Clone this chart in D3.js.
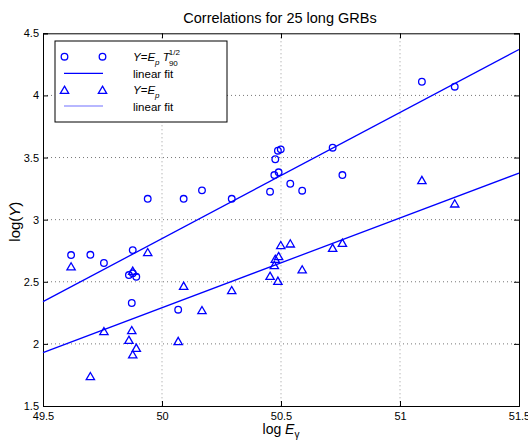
<!DOCTYPE html>
<html>
<head>
<meta charset="utf-8">
<script src="https://cdn.jsdelivr.net/npm/d3@7"></script>
<style>
  body { margin: 0; background: #fff; }
  text { font-family: "Liberation Sans", Arial, sans-serif; fill: #000; }
</style>
</head>
<body>
<div id="chart"></div>
<script>
// log E_gamma of the 25 bursts (shared by both series)
const logEgamma = [49.618, 49.699, 49.756, 49.877, 49.861, 49.877, 49.892, 49.873,
  49.940, 50.068, 50.091, 50.168, 50.293, 50.454, 50.472, 50.476, 50.487, 50.490,
  50.499, 50.539, 50.589, 50.717, 50.758, 51.092, 51.230];
// log(Ep * T90^(1/2))
const logYcirc = [2.715, 2.717, 2.651, 2.755, 2.554, 2.568, 2.540, 2.329,
  3.168, 2.275, 3.168, 3.236, 3.168, 3.225, 3.359, 3.486, 3.555, 3.381,
  3.566, 3.289, 3.233, 3.579, 3.359, 4.110, 4.070];
// log(Ep)
const logYtri = [2.624, 1.741, 2.103, 2.589, 2.033, 1.916, 1.969, 2.111,
  2.739, 2.023, 2.468, 2.272, 2.433, 2.548, 2.635, 2.685, 2.508, 2.707,
  2.795, 2.809, 2.600, 2.774, 2.814, 3.319, 3.131];
// linear fits, values at the ends of the x range
const fitX = [49.5, 51.5];
const fitCirc = [2.34, 4.37];
const fitTri = [1.93, 3.375];
const xTicks = [49.5, 50, 50.5, 51, 51.5];
const yTicks = [1.5, 2, 2.5, 3, 3.5, 4, 4.5];

const W = 528, H = 445;
const margin = { top: 33.3, right: 9, bottom: 39, left: 43 };
const iw = W - margin.left - margin.right;
const ih = H - margin.top - margin.bottom;
const blue = "#0000ff";

const svg = d3.select("#chart").append("svg")
  .attr("width", W).attr("height", H);

const x = d3.scaleLinear().domain([49.5, 51.5]).range([0, iw]);
const y = d3.scaleLinear().domain([1.5, 4.5]).range([ih, 0]);

const g = svg.append("g")
  .attr("transform", "translate(" + margin.left + "," + margin.top + ")");

// grid, dotted
g.append("g").selectAll("line")
  .data(xTicks.slice(1, -1)).enter().append("line")
  .attr("x1", d => x(d)).attr("x2", d => x(d))
  .attr("y1", 0).attr("y2", ih)
  .attr("stroke", "#999").attr("stroke-dasharray", "1,3");
g.append("g").selectAll("line")
  .data(yTicks.slice(1, -1)).enter().append("line")
  .attr("y1", d => y(d)).attr("y2", d => y(d))
  .attr("x1", 0).attr("x2", iw)
  .attr("stroke", "#777").attr("stroke-dasharray", "1,3");

// axes (ticks inside, all four sides)
const fmt = d3.format("");
g.append("g").attr("transform", "translate(0," + ih + ")")
  .call(d3.axisBottom(x).tickValues(xTicks).tickSize(-5).tickPadding(6).tickFormat(fmt));
g.append("g")
  .call(d3.axisTop(x).tickValues(xTicks).tickSize(-5).tickFormat(""));
g.append("g")
  .call(d3.axisLeft(y).tickValues(yTicks).tickSize(-5).tickPadding(4).tickFormat(fmt));
g.append("g").attr("transform", "translate(" + iw + ",0)")
  .call(d3.axisRight(y).tickValues(yTicks).tickSize(-5).tickFormat(""));
g.selectAll(".domain").attr("stroke", "#000");
g.selectAll(".tick line").attr("stroke", "#000");
g.selectAll(".tick text").attr("font-size", 11)
  .attr("font-family", "Liberation Sans, Arial, sans-serif").attr("fill", "#000");

// fit lines
const line = d3.line().x(d => x(d[0])).y(d => y(d[1]));
g.append("path").datum(fitX.map((v, i) => [v, fitCirc[i]]))
  .attr("d", line).attr("stroke", blue).attr("stroke-width", 1.3).attr("fill", "none");
g.append("path").datum(fitX.map((v, i) => [v, fitTri[i]]))
  .attr("d", line).attr("stroke", blue).attr("stroke-width", 1.3).attr("fill", "none");

// markers
const tri = d3.symbol().type(d3.symbolTriangle).size(30);
g.append("g").selectAll("circle")
  .data(logEgamma).enter().append("circle")
  .attr("cx", d => x(d)).attr("cy", (d, i) => y(logYcirc[i]))
  .attr("r", 3.3).attr("fill", "none").attr("stroke", blue).attr("stroke-width", 1.3);
g.append("g").selectAll("path")
  .data(logEgamma).enter().append("path")
  .attr("d", tri)
  .attr("transform", (d, i) => "translate(" + x(d) + "," + (y(logYtri[i]) + 1.2) + ")")
  .attr("fill", "none").attr("stroke", blue).attr("stroke-width", 1.3);

// legend
const lg = svg.append("g").attr("transform", "translate(55,41)");
lg.append("rect").attr("width", 172).attr("height", 81)
  .attr("fill", "#fff").attr("stroke", "#000").attr("stroke-width", 1);
[9.5, 47.5].forEach(cx => {
  lg.append("circle").attr("cx", cx).attr("cy", 15.7).attr("r", 3.3)
    .attr("fill", "none").attr("stroke", blue).attr("stroke-width", 1.3);
  lg.append("path").attr("d", tri).attr("transform", "translate(" + cx + ",50)")
    .attr("fill", "none").attr("stroke", blue).attr("stroke-width", 1.3);
});
lg.append("line").attr("x1", 9).attr("x2", 48).attr("y1", 32.3).attr("y2", 32.3)
  .attr("stroke", blue).attr("stroke-width", 1.2);
lg.append("line").attr("x1", 9).attr("x2", 48).attr("y1", 65).attr("y2", 65)
  .attr("stroke", "#7070ff").attr("stroke-width", 1.2);

const t1 = lg.append("text").attr("x", 78).attr("y", 20).attr("font-size", 11.5);
t1.append("tspan").attr("font-style", "italic").text("Y");
t1.append("tspan").text("=");
t1.append("tspan").attr("font-style", "italic").text("E");
t1.append("tspan").attr("font-style", "italic").attr("font-size", 8).attr("dy", 4).text("p");
t1.append("tspan").attr("font-style", "italic").attr("dy", -4).text(" T");
t1.append("tspan").attr("font-size", 8).attr("dy", -6).attr("dx", -1).text("1/2");
t1.append("tspan").attr("font-size", 8).attr("dy", 11).attr("dx", -11).text("90");
lg.append("text").attr("x", 78).attr("y", 37).attr("font-size", 11.5).text("linear fit");
const t3 = lg.append("text").attr("x", 78).attr("y", 53).attr("font-size", 11.5);
t3.append("tspan").attr("font-style", "italic").text("Y");
t3.append("tspan").text("=");
t3.append("tspan").attr("font-style", "italic").text("E");
t3.append("tspan").attr("font-style", "italic").attr("font-size", 8).attr("dy", 4).text("p");
lg.append("text").attr("x", 78).attr("y", 69.5).attr("font-size", 11.5).text("linear fit");

// title and axis labels
svg.append("text").attr("x", margin.left + iw / 2 - 1).attr("y", 23)
  .attr("text-anchor", "middle").attr("font-size", 14.5)
  .text("Correlations for 25 long GRBs");

const xl = svg.append("text").attr("x", margin.left + iw / 2).attr("y", 434)
  .attr("text-anchor", "middle").attr("font-size", 14);
xl.append("tspan").text("log ");
xl.append("tspan").attr("font-style", "italic").text("E");
xl.append("tspan").attr("font-size", 10).attr("dy", 4).text("γ");

const yl = svg.append("text")
  .attr("transform", "translate(20," + (margin.top + ih / 2 + 2) + ") rotate(-90)")
  .attr("text-anchor", "middle").attr("font-size", 15);
yl.append("tspan").text("log(");
yl.append("tspan").attr("font-style", "italic").text("Y");
yl.append("tspan").text(")");
</script>
</body>
</html>
